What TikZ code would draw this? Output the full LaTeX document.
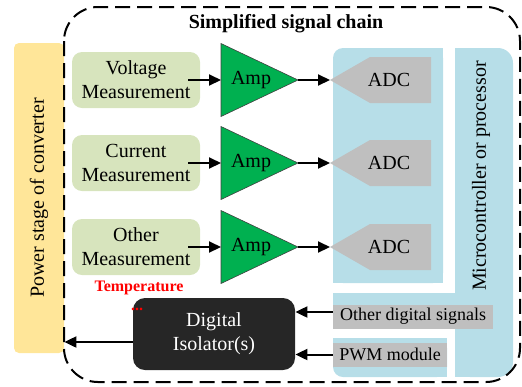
\documentclass[tikz,border=0pt]{standalone}
\usepackage{fontspec}
\setmainfont{LiberationSerif}[Extension=.ttf, UprightFont=*-Regular,
  BoldFont=*-Bold, ItalicFont=*-Italic, BoldItalicFont=*-BoldItalic]
\usetikzlibrary{arrows.meta}
\usetikzlibrary{positioning,calc}

\definecolor{stagefill}{HTML}{FFE699}
\definecolor{measfill}{HTML}{D7E4BD}
\definecolor{ampfill}{HTML}{00B050}
\definecolor{mcufill}{HTML}{B7DEE8}
\definecolor{adcfill}{HTML}{BFBFBF}
\definecolor{isofill}{HTML}{262626}

\begin{document}
\begin{tikzpicture}[x=0.5pt,y=-0.5pt,
         sig/.style = {line width=1pt, -{Triangle[length=6pt,width=5.5pt]}},
         border/.style = {line width=1pt, dash pattern=on 7.5pt off 3.5pt,
         rounded corners=17pt},
         stage/.style = {fill=stagefill, rounded corners=2.5pt, inner sep=0pt,
         minimum width=155pt, minimum height=25pt},
         meas/.style = {fill=measfill, rounded corners=5pt, inner sep=0pt,
         minimum width=64pt, minimum height=28pt, align=center},
         amp/.style = {fill=ampfill, draw=black!75, line width=0.3pt},
         mcu/.style = {fill=mcufill},
         adc/.style = {fill=adcfill},
         lbl/.style = {fill=adcfill, inner sep=0pt, minimum height=12pt,
         font=\fontsize{9}{11}\selectfont},
         iso/.style = {fill=isofill, text=white, rounded corners=6pt,
         minimum width=81pt, minimum height=36pt, align=center},
         note/.style = {text=red, font=\bfseries\fontsize{8}{10}\selectfont}
]
      \useasboundingbox (0,0) rectangle (522,386);

      % microcontroller: ADC block, column, digital band, PWM block
      \fill[mcu, rounded corners=5pt] (333,48) rectangle (443,283);
      \fill[mcu] (345,48) rectangle (443,283);
      \fill[mcu] (333,60) rectangle (443,283);
      \fill[mcu, rounded corners=7.5pt] (455,48) rectangle (513,377);
      \fill[mcu] (455,48) rectangle (495,377);
      \fill[mcu] (333,293) rectangle (456,328);
      \fill[mcu, rounded corners=5pt] (333,338) rectangle (447,377);
      \fill[mcu] (333,338) rectangle (447,365);
      \fill[mcu] (345,338) rectangle (447,377);
      \node[rotate=90] (mcu) at (481,176) {Microcontroller or processor};

      % power stage
      \node[stage, rotate=90] (stage) at (39,198) {Power stage of converter};

      \node[font=\bfseries] (title) at (286,24) {Simplified signal chain};

      % measurement -> amp -> ADC
      \foreach \y/\n/\txt in {80/1/Voltage,163/2/Current,247/3/Other}{
         \node[meas] (meas-\n) at (136,\y) {\txt\\Measurement};

         \filldraw[amp] (221,\y-36.5) -- (298,\y) -- (221,\y+36.5) -- cycle;
         \coordinate (ampin-\n) at (221,\y);
         \coordinate (ampout-\n) at (298,\y);
         \node (amp-\n) at (251,\y) {Amp};

         \fill[adc] (330,\y) -- (370,\y-23) -- (431,\y-23) -- (431,\y+23)
         -- (370,\y+23) -- cycle;
         \coordinate (adcin-\n) at (330,\y);
         \node (adc-\n) at (389,\y) {ADC};

         \draw[sig] ([xshift=-6pt]meas-\n.east) -- (ampin-\n);
         \draw[sig] (ampout-\n) -- (adcin-\n);
      }

      % digital side
      \node[lbl, minimum width=80pt] (odig) at (413,316.5) {Other digital signals};
      \node[lbl, minimum width=57pt] (pwm) at (390,354.5) {PWM module};
      \node[iso] (iso) at (214,334) {Digital\\Isolator(s)};

      \node[note] (temp) at (139,288) {Temperature};
      \node[note] (dots) at (137,309) {...};

      \coordinate (odigout) at ([yshift=2.25pt]odig.west);
      \draw[sig] (odigout) -- (odigout -| iso.east);
      \draw[sig] (pwm.west) -- (pwm.west -| iso.east);
      \coordinate (isoout) at ([yshift=-4pt]iso.west);
      \draw[sig] (isoout) -- (isoout -| stage.south);

      % signal chain border
      \draw[border] (64,7) rectangle (520,382);
\end{tikzpicture}
\end{document}
